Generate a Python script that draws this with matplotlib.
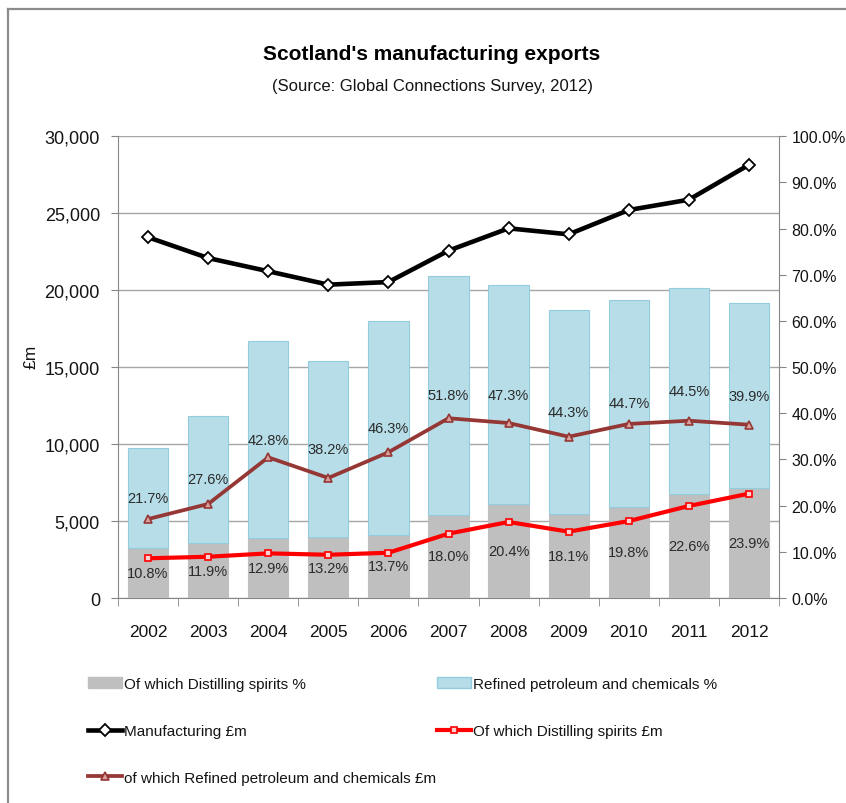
import matplotlib
matplotlib.use("Agg")
import matplotlib.pyplot as plt
from matplotlib.lines import Line2D
from matplotlib.patches import Patch
from matplotlib.ticker import FuncFormatter, MultipleLocator
import numpy as np

plt.rcParams['font.family'] = ['Liberation Sans', 'DejaVu Sans']

years = ['2002', '2003', '2004', '2005', '2006', '2007', '2008', '2009', '2010', '2011', '2012']

# Shares of manufacturing exports (%), right axis, stacked
distilling_pct = [10.8, 11.9, 12.9, 13.2, 13.7, 18.0, 20.4, 18.1, 19.8, 22.6, 23.9]
refined_pct = [21.7, 27.6, 42.8, 38.2, 46.3, 51.8, 47.3, 44.3, 44.7, 44.5, 39.9]

# Export values (£m), left axis
manufacturing_m = [23440, 22090, 21230, 20360, 20530, 22570, 24020, 23630, 25210, 25880, 28150]
distilling_m = [2580, 2680, 2900, 2810, 2940, 4180, 4940, 4310, 5000, 5980, 6780]
refined_m = [5130, 6110, 9140, 7800, 9470, 11680, 11370, 10480, 11310, 11520, 11260]

W, H = 846, 804
fig = plt.figure(figsize=(W / 100, H / 100), dpi=100)

# outer chart frame (top and left edges)
fig.add_artist(Line2D([8 / W, 8 / W], [0, 1 - 10 / H], transform=fig.transFigure,
                      color='#8c8c8c', lw=1.6))
fig.add_artist(Line2D([8 / W, 1], [1 - 10 / H, 1 - 10 / H], transform=fig.transFigure,
                      color='#8c8c8c', lw=1.6))

x0, x1, y0, y1 = 118, 779, 599, 137.3
rect = [x0 / W, 1 - y0 / H, (x1 - x0) / W, (y0 - y1) / H]
ax = fig.add_axes(rect)        # £m scale, gridlines
axp = ax.twinx()               # % scale, bars
axl = ax.twinx()               # £m scale, lines on top

x = np.arange(len(years))
spine_col = '#868686'
text_col = '#141414'

# --- left axis (£m)
ax.set_xlim(-0.5, len(years) - 0.5)
ax.set_ylim(0, 30000)
ax.yaxis.set_major_locator(MultipleLocator(5000))
ax.yaxis.set_major_formatter(FuncFormatter(lambda v, p: f'{int(v):,}'))
ax.grid(axis='y', color='#a6a6a6', lw=1.0)
ax.set_axisbelow(True)
ax.tick_params(axis='y', length=5, color=spine_col, labelsize=13, pad=8, labelcolor=text_col)
ax.set_ylabel('£m', fontsize=12.5, color=text_col)
ax.yaxis.set_label_coords((38 - x0) / (x1 - x0), (y0 - 357) / (y0 - y1))
ax.set_xticks(x)
ax.set_xticklabels(years)
ax.set_xticks(np.arange(-0.5, len(years), 1), minor=True)
ax.tick_params(axis='x', which='major', length=0, labelsize=12.5, pad=19, labelcolor=text_col)
ax.tick_params(axis='x', which='minor', length=6, color=spine_col, direction='out')
for s in ['top', 'right']:
    ax.spines[s].set_visible(False)
for s in ['left', 'bottom']:
    ax.spines[s].set_color(spine_col)

# --- right axis (%)
axp.set_ylim(0, 100)
axp.yaxis.set_major_locator(MultipleLocator(10))
axp.yaxis.set_major_formatter(FuncFormatter(lambda v, p: f'{v:.1f}%'))
axp.tick_params(axis='y', length=5, color=spine_col, labelsize=11.5, pad=4, labelcolor=text_col)
for s in ['top', 'left', 'bottom']:
    axp.spines[s].set_visible(False)
axp.spines['right'].set_color(spine_col)

bw = 0.67
b1 = axp.bar(x, distilling_pct, width=bw, color='#bfbfbf', edgecolor='#bfbfbf', lw=0.8)
b2 = axp.bar(x, refined_pct, width=bw, bottom=distilling_pct, color='#b7dee8',
             edgecolor='#93cddd', lw=0.8)
axp.bar_label(b1, labels=[f'{v:.1f}%' for v in distilling_pct], label_type='center',
              fontsize=10.5, color='#2b2b2b')
axp.bar_label(b2, labels=[f'{v:.1f}%' for v in refined_pct], label_type='center',
              fontsize=10.5, color='#2b2b2b')

# --- lines (£m)
axl.set_ylim(0, 30000)
axl.set_axis_off()
l_man, = axl.plot(x, manufacturing_m, color='black', lw=3.3, marker='D', ms=6.5,
                  mfc='white', mec='black', mew=1.3)
l_dis, = axl.plot(x, distilling_m, color='#ff0000', lw=3.0, marker='s', ms=5,
                  mfc='#ffd0d0', mec='#ff0000', mew=1.2)
l_ref, = axl.plot(x, refined_m, color='#953735', lw=2.7, marker='^', ms=6,
                  mfc='#d9a09e', mec='#953735', mew=1.2)

# --- titles
cx = 0.5 * (272 + 592) / W
fig.text(cx, 1 - 54 / H, "Scotland's manufacturing exports",
         ha='center', va='center', fontsize=15, fontweight='bold', color='black')
fig.text(cx, 1 - 86 / H, "(Source: Global Connections Survey, 2012)",
         ha='center', va='center', fontsize=12, color=text_col)

# --- legend (two columns)
p_dis = Patch(facecolor='#bfbfbf', edgecolor='#bfbfbf')
p_ref = Patch(facecolor='#b7dee8', edgecolor='#93cddd')
common = dict(frameon=False, fontsize=11, handlelength=2.2, handletextpad=0.15,
              labelspacing=2.15, borderpad=0, borderaxespad=0, loc='upper left',
              labelcolor=text_col)
leg1 = fig.legend([p_dis, l_man, l_ref],
                  ['Of which Distilling spirits %', 'Manufacturing £m',
                   'of which Refined petroleum and chemicals £m'],
                  bbox_to_anchor=(88 / W, 1 - 678 / H), **common)
leg2 = fig.legend([p_ref, l_dis],
                  ['Refined petroleum and chemicals %', 'Of which Distilling spirits £m'],
                  bbox_to_anchor=(437 / W, 1 - 678 / H), **common)

fig.savefig('out.png', dpi=100)
